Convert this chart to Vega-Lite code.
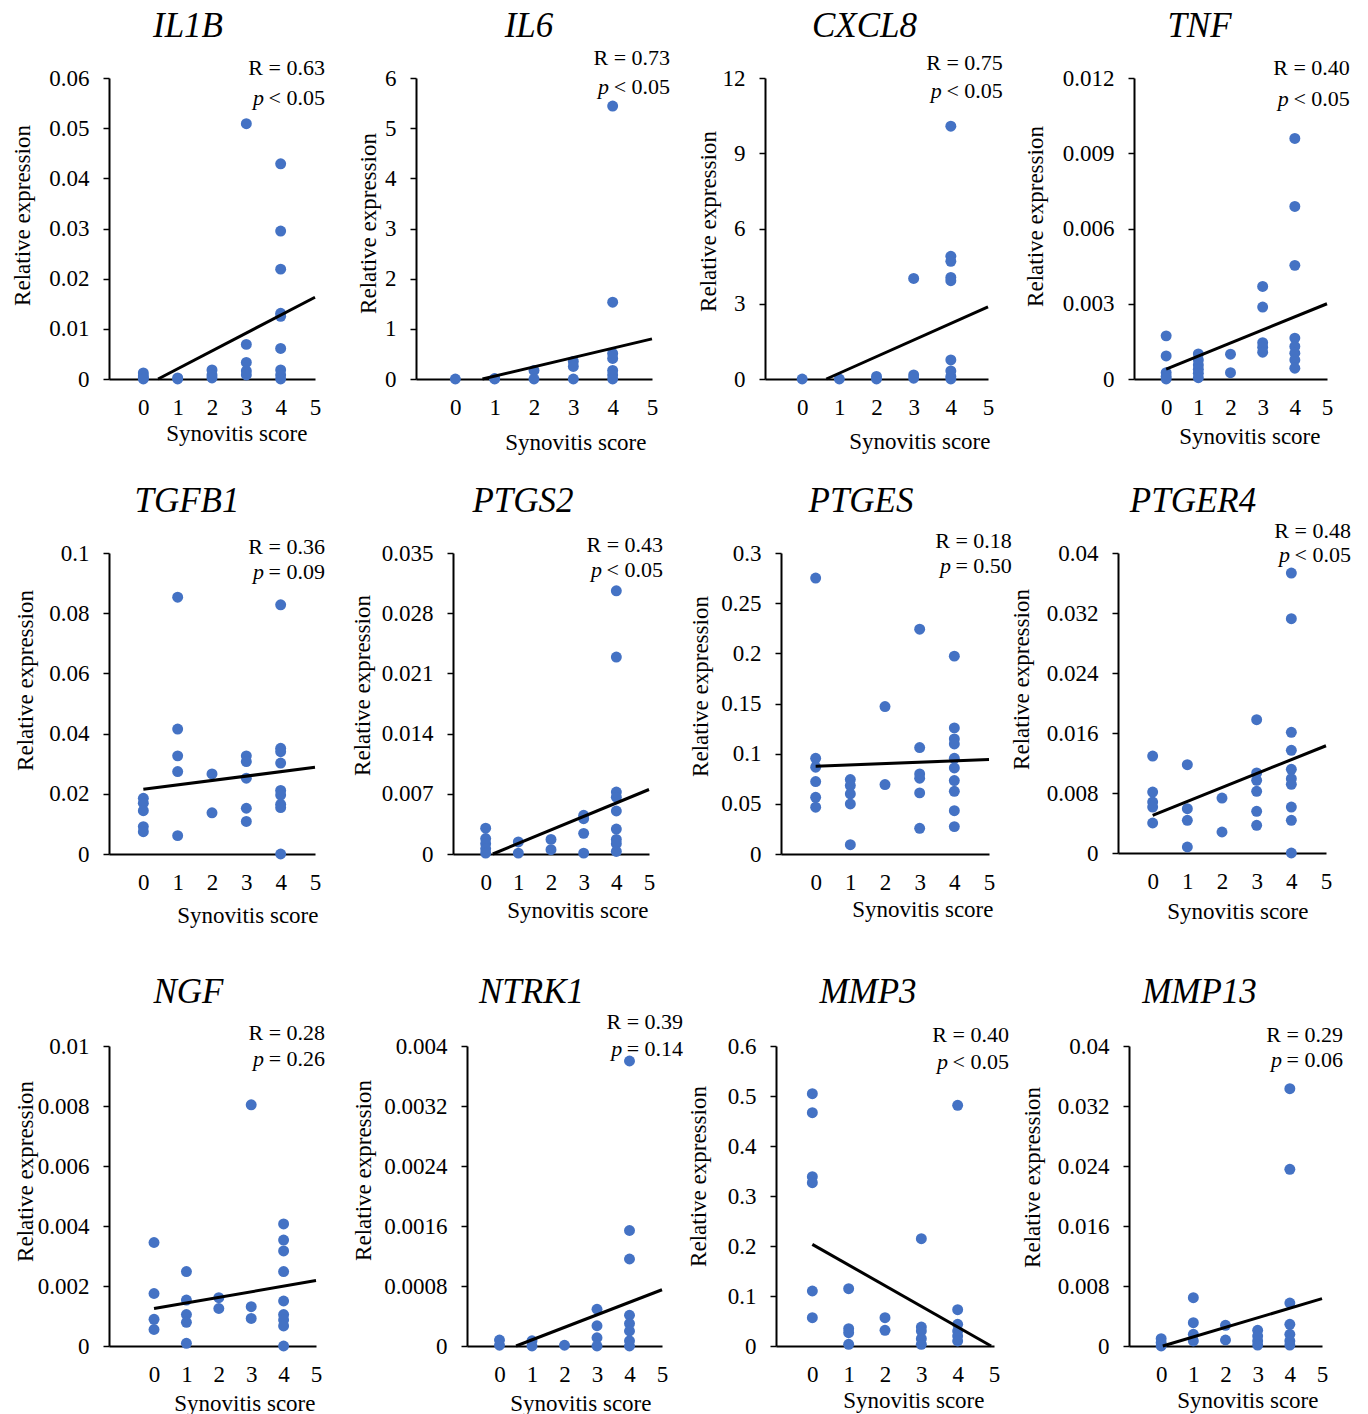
{
"$schema": "https://vega.github.io/schema/vega-lite/v6.json",
"background": "white",
"padding": {"left": 10, "top": 8, "right": 0, "bottom": 0},
"config": {
 "font": "Liberation Serif",
 "view": {"stroke": null},
 "axis": {"domainColor": "black", "domainWidth": 2, "labelColor": "black", "titleColor": "black", "labelFont": "Liberation Serif", "titleFont": "Liberation Serif", "labelFontSize": 23, "titleFontSize": 23, "titleFontWeight": "normal", "grid": false, "labelOverlap": false},
 "axisX": {"tickSize": 0, "ticks": false, "labelPadding": 17, "labelFlush": false, "labelOverlap": false, "labelBound": false, "titleAnchor": "end", "titleAlign": "right", "titleBaseline": "top"},
 "axisY": {"tickSize": 6, "tickWidth": 1.5, "tickColor": "black", "labelPadding": 14, "labelOverlap": false},
 "title": {"font": "Liberation Serif", "fontSize": 35, "fontStyle": "italic", "fontWeight": "normal", "color": "black", "anchor": "middle", "frame": "group", "baseline": "bottom"},
 "text": {"font": "Liberation Serif", "fontSize": 22, "color": "black"}
},
"datasets": {
 "points": [
  {"gene":"IL1B","score":0,"expr":0.0012},{"gene":"IL1B","score":0,"expr":0.0006},{"gene":"IL1B","score":0,"expr":0.0002},{"gene":"IL1B","score":0,"expr":0},
  {"gene":"IL1B","score":1,"expr":0.0002},{"gene":"IL1B","score":1,"expr":0},
  {"gene":"IL1B","score":2,"expr":0.0018},{"gene":"IL1B","score":2,"expr":0.0008},{"gene":"IL1B","score":2,"expr":0.0002},
  {"gene":"IL1B","score":3,"expr":0.0509},{"gene":"IL1B","score":3,"expr":0.0069},{"gene":"IL1B","score":3,"expr":0.0033},{"gene":"IL1B","score":3,"expr":0.0016},{"gene":"IL1B","score":3,"expr":0.0008},
  {"gene":"IL1B","score":4,"expr":0.0429},{"gene":"IL1B","score":4,"expr":0.0295},{"gene":"IL1B","score":4,"expr":0.0219},{"gene":"IL1B","score":4,"expr":0.0131},{"gene":"IL1B","score":4,"expr":0.0125},{"gene":"IL1B","score":4,"expr":0.0061},{"gene":"IL1B","score":4,"expr":0.0018},{"gene":"IL1B","score":4,"expr":0.0008},{"gene":"IL1B","score":4,"expr":0},

  {"gene":"IL6","score":0,"expr":0},
  {"gene":"IL6","score":1,"expr":0.01},{"gene":"IL6","score":1,"expr":0},
  {"gene":"IL6","score":2,"expr":0.17},{"gene":"IL6","score":2,"expr":0},
  {"gene":"IL6","score":3,"expr":0.35},{"gene":"IL6","score":3,"expr":0.25},{"gene":"IL6","score":3,"expr":0},
  {"gene":"IL6","score":4,"expr":5.44},{"gene":"IL6","score":4,"expr":1.53},{"gene":"IL6","score":4,"expr":0.51},{"gene":"IL6","score":4,"expr":0.41},{"gene":"IL6","score":4,"expr":0.17},{"gene":"IL6","score":4,"expr":0.08},{"gene":"IL6","score":4,"expr":0},

  {"gene":"CXCL8","score":0,"expr":0},
  {"gene":"CXCL8","score":1,"expr":0},
  {"gene":"CXCL8","score":2,"expr":0.1},{"gene":"CXCL8","score":2,"expr":0},
  {"gene":"CXCL8","score":3,"expr":4.01},{"gene":"CXCL8","score":3,"expr":0.16},{"gene":"CXCL8","score":3,"expr":0.03},
  {"gene":"CXCL8","score":4,"expr":10.08},{"gene":"CXCL8","score":4,"expr":4.89},{"gene":"CXCL8","score":4,"expr":4.69},{"gene":"CXCL8","score":4,"expr":4.05},{"gene":"CXCL8","score":4,"expr":3.92},{"gene":"CXCL8","score":4,"expr":0.76},{"gene":"CXCL8","score":4,"expr":0.32},{"gene":"CXCL8","score":4,"expr":0.1},{"gene":"CXCL8","score":4,"expr":0},

  {"gene":"TNF","score":0,"expr":0.00172},{"gene":"TNF","score":0,"expr":0.00092},{"gene":"TNF","score":0,"expr":0.00025},{"gene":"TNF","score":0,"expr":0.0001},{"gene":"TNF","score":0,"expr":0},
  {"gene":"TNF","score":1,"expr":0.001},{"gene":"TNF","score":1,"expr":0.00076},{"gene":"TNF","score":1,"expr":0.00056},{"gene":"TNF","score":1,"expr":0.00039},{"gene":"TNF","score":1,"expr":0.00023},{"gene":"TNF","score":1,"expr":0.00005},
  {"gene":"TNF","score":2,"expr":0.00099},{"gene":"TNF","score":2,"expr":0.00025},
  {"gene":"TNF","score":3,"expr":0.00369},{"gene":"TNF","score":3,"expr":0.00287},{"gene":"TNF","score":3,"expr":0.00145},{"gene":"TNF","score":3,"expr":0.00127},{"gene":"TNF","score":3,"expr":0.00107},
  {"gene":"TNF","score":4,"expr":0.00959},{"gene":"TNF","score":4,"expr":0.00688},{"gene":"TNF","score":4,"expr":0.00453},{"gene":"TNF","score":4,"expr":0.00163},{"gene":"TNF","score":4,"expr":0.0013},{"gene":"TNF","score":4,"expr":0.00103},{"gene":"TNF","score":4,"expr":0.00076},{"gene":"TNF","score":4,"expr":0.00043},

  {"gene":"TGFB1","score":0,"expr":0.0185},{"gene":"TGFB1","score":0,"expr":0.0169},{"gene":"TGFB1","score":0,"expr":0.0144},{"gene":"TGFB1","score":0,"expr":0.0091},{"gene":"TGFB1","score":0,"expr":0.0074},
  {"gene":"TGFB1","score":1,"expr":0.0853},{"gene":"TGFB1","score":1,"expr":0.0415},{"gene":"TGFB1","score":1,"expr":0.0326},{"gene":"TGFB1","score":1,"expr":0.0274},{"gene":"TGFB1","score":1,"expr":0.0061},
  {"gene":"TGFB1","score":2,"expr":0.0266},{"gene":"TGFB1","score":2,"expr":0.0137},
  {"gene":"TGFB1","score":3,"expr":0.0326},{"gene":"TGFB1","score":3,"expr":0.0307},{"gene":"TGFB1","score":3,"expr":0.0252},{"gene":"TGFB1","score":3,"expr":0.0152},{"gene":"TGFB1","score":3,"expr":0.0108},
  {"gene":"TGFB1","score":4,"expr":0.0828},{"gene":"TGFB1","score":4,"expr":0.0351},{"gene":"TGFB1","score":4,"expr":0.034},{"gene":"TGFB1","score":4,"expr":0.0302},{"gene":"TGFB1","score":4,"expr":0.0211},{"gene":"TGFB1","score":4,"expr":0.0196},{"gene":"TGFB1","score":4,"expr":0.0165},{"gene":"TGFB1","score":4,"expr":0.0154},{"gene":"TGFB1","score":4,"expr":0},

  {"gene":"PTGS2","score":0,"expr":0.003},{"gene":"PTGS2","score":0,"expr":0.0018},{"gene":"PTGS2","score":0,"expr":0.0012},{"gene":"PTGS2","score":0,"expr":0.0006},{"gene":"PTGS2","score":0,"expr":0.0001},
  {"gene":"PTGS2","score":1,"expr":0.0014},{"gene":"PTGS2","score":1,"expr":0.0001},
  {"gene":"PTGS2","score":2,"expr":0.0017},{"gene":"PTGS2","score":2,"expr":0.0005},
  {"gene":"PTGS2","score":3,"expr":0.0045},{"gene":"PTGS2","score":3,"expr":0.0041},{"gene":"PTGS2","score":3,"expr":0.0024},{"gene":"PTGS2","score":3,"expr":0.0001},
  {"gene":"PTGS2","score":4,"expr":0.0306},{"gene":"PTGS2","score":4,"expr":0.0229},{"gene":"PTGS2","score":4,"expr":0.0072},{"gene":"PTGS2","score":4,"expr":0.0066},{"gene":"PTGS2","score":4,"expr":0.005},{"gene":"PTGS2","score":4,"expr":0.0029},{"gene":"PTGS2","score":4,"expr":0.0017},{"gene":"PTGS2","score":4,"expr":0.0012},{"gene":"PTGS2","score":4,"expr":0.0003},

  {"gene":"PTGES","score":0,"expr":0.275},{"gene":"PTGES","score":0,"expr":0.0954},{"gene":"PTGES","score":0,"expr":0.0865},{"gene":"PTGES","score":0,"expr":0.0722},{"gene":"PTGES","score":0,"expr":0.0565},{"gene":"PTGES","score":0,"expr":0.0466},
  {"gene":"PTGES","score":1,"expr":0.0742},{"gene":"PTGES","score":1,"expr":0.0682},{"gene":"PTGES","score":1,"expr":0.0599},{"gene":"PTGES","score":1,"expr":0.0499},{"gene":"PTGES","score":1,"expr":0.0093},
  {"gene":"PTGES","score":2,"expr":0.147},{"gene":"PTGES","score":2,"expr":0.0692},
  {"gene":"PTGES","score":3,"expr":0.2241},{"gene":"PTGES","score":3,"expr":0.1061},{"gene":"PTGES","score":3,"expr":0.0798},{"gene":"PTGES","score":3,"expr":0.0755},{"gene":"PTGES","score":3,"expr":0.0609},{"gene":"PTGES","score":3,"expr":0.0256},
  {"gene":"PTGES","score":4,"expr":0.1972},{"gene":"PTGES","score":4,"expr":0.1257},{"gene":"PTGES","score":4,"expr":0.1147},{"gene":"PTGES","score":4,"expr":0.1097},{"gene":"PTGES","score":4,"expr":0.0954},{"gene":"PTGES","score":4,"expr":0.0858},{"gene":"PTGES","score":4,"expr":0.0732},{"gene":"PTGES","score":4,"expr":0.0625},{"gene":"PTGES","score":4,"expr":0.0432},{"gene":"PTGES","score":4,"expr":0.0273},

  {"gene":"PTGER4","score":0,"expr":0.01293},{"gene":"PTGER4","score":0,"expr":0.00813},{"gene":"PTGER4","score":0,"expr":0.0068},{"gene":"PTGER4","score":0,"expr":0.00613},{"gene":"PTGER4","score":0,"expr":0.004},
  {"gene":"PTGER4","score":1,"expr":0.01178},{"gene":"PTGER4","score":1,"expr":0.00591},{"gene":"PTGER4","score":1,"expr":0.00436},{"gene":"PTGER4","score":1,"expr":0.0008},
  {"gene":"PTGER4","score":2,"expr":0.00733},{"gene":"PTGER4","score":2,"expr":0.0028},
  {"gene":"PTGER4","score":3,"expr":0.01778},{"gene":"PTGER4","score":3,"expr":0.01067},{"gene":"PTGER4","score":3,"expr":0.00969},{"gene":"PTGER4","score":3,"expr":0.00822},{"gene":"PTGER4","score":3,"expr":0.00556},{"gene":"PTGER4","score":3,"expr":0.00369},
  {"gene":"PTGER4","score":4,"expr":0.03733},{"gene":"PTGER4","score":4,"expr":0.03124},{"gene":"PTGER4","score":4,"expr":0.01609},{"gene":"PTGER4","score":4,"expr":0.01369},{"gene":"PTGER4","score":4,"expr":0.01116},{"gene":"PTGER4","score":4,"expr":0.00991},{"gene":"PTGER4","score":4,"expr":0.00916},{"gene":"PTGER4","score":4,"expr":0.00613},{"gene":"PTGER4","score":4,"expr":0.00436},{"gene":"PTGER4","score":4,"expr":0},

  {"gene":"NGF","score":0,"expr":0.00345},{"gene":"NGF","score":0,"expr":0.00175},{"gene":"NGF","score":0,"expr":0.00089},{"gene":"NGF","score":0,"expr":0.00055},
  {"gene":"NGF","score":1,"expr":0.00248},{"gene":"NGF","score":1,"expr":0.00153},{"gene":"NGF","score":1,"expr":0.00105},{"gene":"NGF","score":1,"expr":0.00079},{"gene":"NGF","score":1,"expr":0.00009},
  {"gene":"NGF","score":2,"expr":0.00161},{"gene":"NGF","score":2,"expr":0.00125},
  {"gene":"NGF","score":3,"expr":0.00804},{"gene":"NGF","score":3,"expr":0.00131},{"gene":"NGF","score":3,"expr":0.00092},
  {"gene":"NGF","score":4,"expr":0.00407},{"gene":"NGF","score":4,"expr":0.00353},{"gene":"NGF","score":4,"expr":0.00317},{"gene":"NGF","score":4,"expr":0.00248},{"gene":"NGF","score":4,"expr":0.0015},{"gene":"NGF","score":4,"expr":0.00105},{"gene":"NGF","score":4,"expr":0.00087},{"gene":"NGF","score":4,"expr":0.00067},{"gene":"NGF","score":4,"expr":0},

  {"gene":"NTRK1","score":0,"expr":0.00008},{"gene":"NTRK1","score":0,"expr":0.00001},
  {"gene":"NTRK1","score":1,"expr":0.00007},{"gene":"NTRK1","score":1,"expr":0},
  {"gene":"NTRK1","score":2,"expr":0.00001},
  {"gene":"NTRK1","score":3,"expr":0.00049},{"gene":"NTRK1","score":3,"expr":0.00027},{"gene":"NTRK1","score":3,"expr":0.00011},{"gene":"NTRK1","score":3,"expr":0},
  {"gene":"NTRK1","score":4,"expr":0.0038},{"gene":"NTRK1","score":4,"expr":0.00154},{"gene":"NTRK1","score":4,"expr":0.00116},{"gene":"NTRK1","score":4,"expr":0.00041},{"gene":"NTRK1","score":4,"expr":0.0003},{"gene":"NTRK1","score":4,"expr":0.0002},{"gene":"NTRK1","score":4,"expr":0.00007},{"gene":"NTRK1","score":4,"expr":0},

  {"gene":"MMP3","score":0,"expr":0.5047},{"gene":"MMP3","score":0,"expr":0.4667},{"gene":"MMP3","score":0,"expr":0.3387},{"gene":"MMP3","score":0,"expr":0.3267},{"gene":"MMP3","score":0,"expr":0.11},{"gene":"MMP3","score":0,"expr":0.0567},
  {"gene":"MMP3","score":1,"expr":0.1147},{"gene":"MMP3","score":1,"expr":0.0347},{"gene":"MMP3","score":1,"expr":0.0267},{"gene":"MMP3","score":1,"expr":0.0033},
  {"gene":"MMP3","score":2,"expr":0.0567},{"gene":"MMP3","score":2,"expr":0.0313},
  {"gene":"MMP3","score":3,"expr":0.2147},{"gene":"MMP3","score":3,"expr":0.038},{"gene":"MMP3","score":3,"expr":0.03},{"gene":"MMP3","score":3,"expr":0.0147},{"gene":"MMP3","score":3,"expr":0.0033},
  {"gene":"MMP3","score":4,"expr":0.4813},{"gene":"MMP3","score":4,"expr":0.0727},{"gene":"MMP3","score":4,"expr":0.0433},{"gene":"MMP3","score":4,"expr":0.03},{"gene":"MMP3","score":4,"expr":0.02},{"gene":"MMP3","score":4,"expr":0.01},

  {"gene":"MMP13","score":0,"expr":0.00098},{"gene":"MMP13","score":0,"expr":0.00044},{"gene":"MMP13","score":0,"expr":0},
  {"gene":"MMP13","score":1,"expr":0.00644},{"gene":"MMP13","score":1,"expr":0.00311},{"gene":"MMP13","score":1,"expr":0.00156},{"gene":"MMP13","score":1,"expr":0.00067},
  {"gene":"MMP13","score":2,"expr":0.00276},{"gene":"MMP13","score":2,"expr":0.0008},
  {"gene":"MMP13","score":3,"expr":0.00209},{"gene":"MMP13","score":3,"expr":0.00133},{"gene":"MMP13","score":3,"expr":0.00067},{"gene":"MMP13","score":3,"expr":0.00013},
  {"gene":"MMP13","score":4,"expr":0.03431},{"gene":"MMP13","score":4,"expr":0.02356},{"gene":"MMP13","score":4,"expr":0.00573},{"gene":"MMP13","score":4,"expr":0.00289},{"gene":"MMP13","score":4,"expr":0.00156},{"gene":"MMP13","score":4,"expr":0.00067},{"gene":"MMP13","score":4,"expr":0.00013}
 ],
 "fits": [
  {"gene":"IL1B","score":0.43,"expr":0},{"gene":"IL1B","score":5,"expr":0.0163},
  {"gene":"IL6","score":0.69,"expr":0},{"gene":"IL6","score":5,"expr":0.8},
  {"gene":"CXCL8","score":0.65,"expr":0},{"gene":"CXCL8","score":5,"expr":2.88},
  {"gene":"TNF","score":0,"expr":0.00039},{"gene":"TNF","score":5,"expr":0.003},
  {"gene":"TGFB1","score":0,"expr":0.0215},{"gene":"TGFB1","score":5,"expr":0.0288},
  {"gene":"PTGS2","score":0.22,"expr":0},{"gene":"PTGS2","score":5,"expr":0.0075},
  {"gene":"PTGES","score":0,"expr":0.0875},{"gene":"PTGES","score":5,"expr":0.0941},
  {"gene":"PTGER4","score":0,"expr":0.00502},{"gene":"PTGER4","score":5,"expr":0.0143},
  {"gene":"NGF","score":0,"expr":0.00125},{"gene":"NGF","score":5,"expr":0.00218},
  {"gene":"NTRK1","score":0.51,"expr":0},{"gene":"NTRK1","score":5,"expr":0.00075},
  {"gene":"MMP3","score":0,"expr":0.2033},{"gene":"MMP3","score":4.92,"expr":0},
  {"gene":"MMP13","score":0.05,"expr":0},{"gene":"MMP13","score":5,"expr":0.00631}
 ],
 "stats": [
  {"gene":"IL1B","r_text":"R = 0.63","p_text":"< 0.05"},
  {"gene":"IL6","r_text":"R = 0.73","p_text":"< 0.05"},
  {"gene":"CXCL8","r_text":"R = 0.75","p_text":"< 0.05"},
  {"gene":"TNF","r_text":"R = 0.40","p_text":"< 0.05"},
  {"gene":"TGFB1","r_text":"R = 0.36","p_text":"= 0.09"},
  {"gene":"PTGS2","r_text":"R = 0.43","p_text":"< 0.05"},
  {"gene":"PTGES","r_text":"R = 0.18","p_text":"= 0.50"},
  {"gene":"PTGER4","r_text":"R = 0.48","p_text":"< 0.05"},
  {"gene":"NGF","r_text":"R = 0.28","p_text":"= 0.26"},
  {"gene":"NTRK1","r_text":"R = 0.39","p_text":"= 0.14"},
  {"gene":"MMP3","r_text":"R = 0.40","p_text":"< 0.05"},
  {"gene":"MMP13","r_text":"R = 0.29","p_text":"= 0.06"}
 ]
},
"concat": [
 {"concat": [
  {"hconcat": [
   {"hconcat": [
    {"width": 206, "height": 301, "title": {"text": "IL1B", "dx": -24, "offset": 13},
     "layer": [
      {"data": {"name": "points"}, "transform": [{"filter": "datum.gene === 'IL1B'"}], "mark": {"type": "circle", "size": 120, "color": "#4472C4", "opacity": 1},
       "encoding": {"x": {"field": "score", "type": "quantitative", "scale": {"domain": [-1, 5], "nice": false, "zero": false}, "axis": {"title": "Synovitis score", "values": [0,1,2,3,4,5], "format": "~g", "tickCount": 12, "labelOverlap": false, "titleX": 198, "titleY": 43}},
                    "y": {"field": "expr", "type": "quantitative", "scale": {"domain": [0, 0.06], "nice": false}, "axis": {"title": "Relative expression", "values": [0,0.01,0.02,0.03,0.04,0.05,0.06], "tickCount": 12, "format": "~g", "titleX": -75, "titleY": 137}}}},
      {"data": {"name": "fits"}, "transform": [{"filter": "datum.gene === 'IL1B'"}], "mark": {"type": "line", "color": "black", "strokeWidth": 3}, "encoding": {"x": {"field": "score", "type": "quantitative"}, "y": {"field": "expr", "type": "quantitative"}}},
      {"data": {"name": "stats"}, "transform": [{"filter": "datum.gene === 'IL1B'"}], "mark": {"type": "text", "align": "right", "baseline": "middle"}, "encoding": {"x": {"datum": 5.29}, "y": {"datum": 0.062}, "text": {"field": "r_text"}}},
      {"data": {"name": "stats"}, "transform": [{"filter": "datum.gene === 'IL1B'"}], "mark": {"type": "text", "align": "right", "baseline": "middle"}, "encoding": {"x": {"datum": 5.29}, "y": {"datum": 0.056}, "text": {"field": "p_text"}}},
      {"data": {"name": "stats"}, "transform": [{"filter": "datum.gene === 'IL1B'"}], "mark": {"type": "text", "align": "right", "baseline": "middle", "fontStyle": "italic", "dx": -61}, "encoding": {"x": {"datum": 5.29}, "y": {"datum": 0.056}, "text": {"value": "p"}}}
     ]},
    {"width": 236, "height": 301, "title": {"text": "IL6", "dx": -5, "offset": 3},
     "layer": [
      {"data": {"name": "points"}, "transform": [{"filter": "datum.gene === 'IL6'"}], "mark": {"type": "circle", "size": 120, "color": "#4472C4", "opacity": 1},
       "encoding": {"x": {"field": "score", "type": "quantitative", "scale": {"domain": [-1, 5], "nice": false, "zero": false}, "axis": {"title": "Synovitis score", "values": [0,1,2,3,4,5], "format": "~g", "tickCount": 12, "labelOverlap": false, "titleX": 230, "titleY": 52}},
                    "y": {"field": "expr", "type": "quantitative", "scale": {"domain": [0, 6], "nice": false}, "axis": {"title": "Relative expression", "values": [0,1,2,3,4,5,6], "tickCount": 12, "format": "~g", "titleX": -36, "titleY": 145}}}},
      {"data": {"name": "fits"}, "transform": [{"filter": "datum.gene === 'IL6'"}], "mark": {"type": "line", "color": "black", "strokeWidth": 3}, "encoding": {"x": {"field": "score", "type": "quantitative"}, "y": {"field": "expr", "type": "quantitative"}}},
      {"data": {"name": "stats"}, "transform": [{"filter": "datum.gene === 'IL6'"}], "mark": {"type": "text", "align": "right", "baseline": "middle"}, "encoding": {"x": {"datum": 5.46}, "y": {"datum": 6.4}, "text": {"field": "r_text"}}},
      {"data": {"name": "stats"}, "transform": [{"filter": "datum.gene === 'IL6'"}], "mark": {"type": "text", "align": "right", "baseline": "middle"}, "encoding": {"x": {"datum": 5.46}, "y": {"datum": 5.82}, "text": {"field": "p_text"}}},
      {"data": {"name": "stats"}, "transform": [{"filter": "datum.gene === 'IL6'"}], "mark": {"type": "text", "align": "right", "baseline": "middle", "fontStyle": "italic", "dx": -61}, "encoding": {"x": {"datum": 5.46}, "y": {"datum": 5.82}, "text": {"value": "p"}}}
     ]}
   ], "spacing": 31},
   {"hconcat": [
    {"width": 223, "height": 301, "title": {"text": "CXCL8", "dx": -12, "offset": 8},
     "layer": [
      {"data": {"name": "points"}, "transform": [{"filter": "datum.gene === 'CXCL8'"}], "mark": {"type": "circle", "size": 120, "color": "#4472C4", "opacity": 1},
       "encoding": {"x": {"field": "score", "type": "quantitative", "scale": {"domain": [-1, 5], "nice": false, "zero": false}, "axis": {"title": "Synovitis score", "values": [0,1,2,3,4,5], "format": "~g", "tickCount": 12, "labelOverlap": false, "titleX": 225, "titleY": 51}},
                    "y": {"field": "expr", "type": "quantitative", "scale": {"domain": [0, 12], "nice": false}, "axis": {"title": "Relative expression", "values": [0,3,6,9,12], "tickCount": 12, "format": "~g", "titleX": -45, "titleY": 143}}}},
      {"data": {"name": "fits"}, "transform": [{"filter": "datum.gene === 'CXCL8'"}], "mark": {"type": "line", "color": "black", "strokeWidth": 3}, "encoding": {"x": {"field": "score", "type": "quantitative"}, "y": {"field": "expr", "type": "quantitative"}}},
      {"data": {"name": "stats"}, "transform": [{"filter": "datum.gene === 'CXCL8'"}], "mark": {"type": "text", "align": "right", "baseline": "middle"}, "encoding": {"x": {"datum": 5.4}, "y": {"datum": 12.6}, "text": {"field": "r_text"}}},
      {"data": {"name": "stats"}, "transform": [{"filter": "datum.gene === 'CXCL8'"}], "mark": {"type": "text", "align": "right", "baseline": "middle"}, "encoding": {"x": {"datum": 5.4}, "y": {"datum": 11.48}, "text": {"field": "p_text"}}},
      {"data": {"name": "stats"}, "transform": [{"filter": "datum.gene === 'CXCL8'"}], "mark": {"type": "text", "align": "right", "baseline": "middle", "fontStyle": "italic", "dx": -61}, "encoding": {"x": {"datum": 5.4}, "y": {"datum": 11.48}, "text": {"value": "p"}}}
     ]},
    {"width": 193, "height": 301, "title": {"text": "TNF", "dx": -31, "offset": 13},
     "layer": [
      {"data": {"name": "points"}, "transform": [{"filter": "datum.gene === 'TNF'"}], "mark": {"type": "circle", "size": 120, "color": "#4472C4", "opacity": 1},
       "encoding": {"x": {"field": "score", "type": "quantitative", "scale": {"domain": [-1, 5], "nice": false, "zero": false}, "axis": {"title": "Synovitis score", "values": [0,1,2,3,4,5], "format": "~g", "tickCount": 12, "labelOverlap": false, "titleX": 186, "titleY": 46}},
                    "y": {"field": "expr", "type": "quantitative", "scale": {"domain": [0, 0.012], "nice": false}, "axis": {"title": "Relative expression", "values": [0,0.003,0.006,0.009,0.012], "tickCount": 12, "format": "~g", "titleX": -87, "titleY": 138}}}},
      {"data": {"name": "fits"}, "transform": [{"filter": "datum.gene === 'TNF'"}], "mark": {"type": "line", "color": "black", "strokeWidth": 3}, "encoding": {"x": {"field": "score", "type": "quantitative"}, "y": {"field": "expr", "type": "quantitative"}}},
      {"data": {"name": "stats"}, "transform": [{"filter": "datum.gene === 'TNF'"}], "mark": {"type": "text", "align": "right", "baseline": "middle"}, "encoding": {"x": {"datum": 5.71}, "y": {"datum": 0.012398}, "text": {"field": "r_text"}}},
      {"data": {"name": "stats"}, "transform": [{"filter": "datum.gene === 'TNF'"}], "mark": {"type": "text", "align": "right", "baseline": "middle"}, "encoding": {"x": {"datum": 5.71}, "y": {"datum": 0.011163}, "text": {"field": "p_text"}}},
      {"data": {"name": "stats"}, "transform": [{"filter": "datum.gene === 'TNF'"}], "mark": {"type": "text", "align": "right", "baseline": "middle", "fontStyle": "italic", "dx": -61}, "encoding": {"x": {"datum": 5.71}, "y": {"datum": 0.011163}, "text": {"value": "p"}}}
     ]}
   ], "spacing": 20}
  ], "spacing": 25},
  {"hconcat": [
   {"hconcat": [
    {"width": 206, "height": 301, "title": {"text": "TGFB1", "dx": -25, "offset": 17},
     "layer": [
      {"data": {"name": "points"}, "transform": [{"filter": "datum.gene === 'TGFB1'"}], "mark": {"type": "circle", "size": 120, "color": "#4472C4", "opacity": 1},
       "encoding": {"x": {"field": "score", "type": "quantitative", "scale": {"domain": [-1, 5], "nice": false, "zero": false}, "axis": {"title": "Synovitis score", "values": [0,1,2,3,4,5], "format": "~g", "tickCount": 12, "labelOverlap": false, "titleX": 209, "titleY": 50}},
                    "y": {"field": "expr", "type": "quantitative", "scale": {"domain": [0, 0.1], "nice": false}, "axis": {"title": "Relative expression", "values": [0,0.02,0.04,0.06,0.08,0.1], "tickCount": 12, "format": "~g", "titleX": -72, "titleY": 127}}}},
      {"data": {"name": "fits"}, "transform": [{"filter": "datum.gene === 'TGFB1'"}], "mark": {"type": "line", "color": "black", "strokeWidth": 3}, "encoding": {"x": {"field": "score", "type": "quantitative"}, "y": {"field": "expr", "type": "quantitative"}}},
      {"data": {"name": "stats"}, "transform": [{"filter": "datum.gene === 'TGFB1'"}], "mark": {"type": "text", "align": "right", "baseline": "middle"}, "encoding": {"x": {"datum": 5.29}, "y": {"datum": 0.102}, "text": {"field": "r_text"}}},
      {"data": {"name": "stats"}, "transform": [{"filter": "datum.gene === 'TGFB1'"}], "mark": {"type": "text", "align": "right", "baseline": "middle"}, "encoding": {"x": {"datum": 5.29}, "y": {"datum": 0.0937}, "text": {"field": "p_text"}}},
      {"data": {"name": "stats"}, "transform": [{"filter": "datum.gene === 'TGFB1'"}], "mark": {"type": "text", "align": "right", "baseline": "middle", "fontStyle": "italic", "dx": -61}, "encoding": {"x": {"datum": 5.29}, "y": {"datum": 0.0937}, "text": {"value": "p"}}}
     ]},
    {"width": 196, "height": 301, "title": {"text": "PTGS2", "dx": -28, "offset": 15},
     "layer": [
      {"data": {"name": "points"}, "transform": [{"filter": "datum.gene === 'PTGS2'"}], "mark": {"type": "circle", "size": 120, "color": "#4472C4", "opacity": 1},
       "encoding": {"x": {"field": "score", "type": "quantitative", "scale": {"domain": [-1, 5], "nice": false, "zero": false}, "axis": {"title": "Synovitis score", "values": [0,1,2,3,4,5], "format": "~g", "tickCount": 12, "labelOverlap": false, "titleX": 195, "titleY": 45}},
                    "y": {"field": "expr", "type": "quantitative", "scale": {"domain": [0, 0.035], "nice": false}, "axis": {"title": "Relative expression", "values": [0,0.007,0.014,0.021,0.028,0.035], "tickCount": 12, "format": "~g", "titleX": -79, "titleY": 132}}}},
      {"data": {"name": "fits"}, "transform": [{"filter": "datum.gene === 'PTGS2'"}], "mark": {"type": "line", "color": "black", "strokeWidth": 3}, "encoding": {"x": {"field": "score", "type": "quantitative"}, "y": {"field": "expr", "type": "quantitative"}}},
      {"data": {"name": "stats"}, "transform": [{"filter": "datum.gene === 'PTGS2'"}], "mark": {"type": "text", "align": "right", "baseline": "middle"}, "encoding": {"x": {"datum": 5.43}, "y": {"datum": 0.03593}, "text": {"field": "r_text"}}},
      {"data": {"name": "stats"}, "transform": [{"filter": "datum.gene === 'PTGS2'"}], "mark": {"type": "text", "align": "right", "baseline": "middle"}, "encoding": {"x": {"datum": 5.43}, "y": {"datum": 0.03302}, "text": {"field": "p_text"}}},
      {"data": {"name": "stats"}, "transform": [{"filter": "datum.gene === 'PTGS2'"}], "mark": {"type": "text", "align": "right", "baseline": "middle", "fontStyle": "italic", "dx": -61}, "encoding": {"x": {"datum": 5.43}, "y": {"datum": 0.03302}, "text": {"value": "p"}}}
     ]}
   ], "spacing": 25},
   {"hconcat": [
    {"width": 208, "height": 301, "title": {"text": "PTGES", "dx": -24, "offset": 11},
     "layer": [
      {"data": {"name": "points"}, "transform": [{"filter": "datum.gene === 'PTGES'"}], "mark": {"type": "circle", "size": 120, "color": "#4472C4", "opacity": 1},
       "encoding": {"x": {"field": "score", "type": "quantitative", "scale": {"domain": [-1, 5], "nice": false, "zero": false}, "axis": {"title": "Synovitis score", "values": [0,1,2,3,4,5], "format": "~g", "tickCount": 12, "labelOverlap": false, "titleX": 212, "titleY": 44}},
                    "y": {"field": "expr", "type": "quantitative", "scale": {"domain": [0, 0.3], "nice": false}, "axis": {"title": "Relative expression", "values": [0,0.05,0.1,0.15,0.2,0.25,0.3], "tickCount": 12, "format": "~g", "titleX": -69, "titleY": 133}}}},
      {"data": {"name": "fits"}, "transform": [{"filter": "datum.gene === 'PTGES'"}], "mark": {"type": "line", "color": "black", "strokeWidth": 3}, "encoding": {"x": {"field": "score", "type": "quantitative"}, "y": {"field": "expr", "type": "quantitative"}}},
      {"data": {"name": "stats"}, "transform": [{"filter": "datum.gene === 'PTGES'"}], "mark": {"type": "text", "align": "right", "baseline": "middle"}, "encoding": {"x": {"datum": 5.66}, "y": {"datum": 0.312}, "text": {"field": "r_text"}}},
      {"data": {"name": "stats"}, "transform": [{"filter": "datum.gene === 'PTGES'"}], "mark": {"type": "text", "align": "right", "baseline": "middle"}, "encoding": {"x": {"datum": 5.66}, "y": {"datum": 0.287}, "text": {"field": "p_text"}}},
      {"data": {"name": "stats"}, "transform": [{"filter": "datum.gene === 'PTGES'"}], "mark": {"type": "text", "align": "right", "baseline": "middle", "fontStyle": "italic", "dx": -61}, "encoding": {"x": {"datum": 5.66}, "y": {"datum": 0.287}, "text": {"value": "p"}}}
     ]},
    {"width": 208, "height": 300, "title": {"text": "PTGER4", "dx": -29, "offset": 1},
     "layer": [
      {"data": {"name": "points"}, "transform": [{"filter": "datum.gene === 'PTGER4'"}], "mark": {"type": "circle", "size": 120, "color": "#4472C4", "opacity": 1},
       "encoding": {"x": {"field": "score", "type": "quantitative", "scale": {"domain": [-1, 5], "nice": false, "zero": false}, "axis": {"title": "Synovitis score", "values": [0,1,2,3,4,5], "format": "~g", "tickCount": 12, "labelOverlap": false, "titleX": 190, "titleY": 47}},
                    "y": {"field": "expr", "type": "quantitative", "scale": {"domain": [0, 0.04], "nice": false}, "axis": {"title": "Relative expression", "values": [0,0.008,0.016,0.024,0.032,0.04], "tickCount": 12, "format": "~g", "titleX": -85, "titleY": 126}}}},
      {"data": {"name": "fits"}, "transform": [{"filter": "datum.gene === 'PTGER4'"}], "mark": {"type": "line", "color": "black", "strokeWidth": 3}, "encoding": {"x": {"field": "score", "type": "quantitative"}, "y": {"field": "expr", "type": "quantitative"}}},
      {"data": {"name": "stats"}, "transform": [{"filter": "datum.gene === 'PTGER4'"}], "mark": {"type": "text", "align": "right", "baseline": "middle"}, "encoding": {"x": {"datum": 5.72}, "y": {"datum": 0.04293}, "text": {"field": "r_text"}}},
      {"data": {"name": "stats"}, "transform": [{"filter": "datum.gene === 'PTGER4'"}], "mark": {"type": "text", "align": "right", "baseline": "middle"}, "encoding": {"x": {"datum": 5.72}, "y": {"datum": 0.03973}, "text": {"field": "p_text"}}},
      {"data": {"name": "stats"}, "transform": [{"filter": "datum.gene === 'PTGER4'"}], "mark": {"type": "text", "align": "right", "baseline": "middle", "fontStyle": "italic", "dx": -61}, "encoding": {"x": {"datum": 5.72}, "y": {"datum": 0.03973}, "text": {"value": "p"}}}
     ]}
   ], "spacing": -3}
  ], "spacing": 24}
 ], "columns": 1, "spacing": 29, "align": "none"},
 {"hconcat": [
  {"hconcat": [
   {"width": 207, "height": 300, "title": {"text": "NGF", "dx": -24, "offset": 12},
    "layer": [
     {"data": {"name": "points"}, "transform": [{"filter": "datum.gene === 'NGF'"}], "mark": {"type": "circle", "size": 120, "color": "#4472C4", "opacity": 1},
      "encoding": {"x": {"field": "score", "type": "quantitative", "scale": {"domain": [-1.39, 5], "nice": false, "zero": false}, "axis": {"title": "Synovitis score", "values": [0,1,2,3,4,5], "format": "~g", "tickCount": 12, "labelOverlap": false, "titleX": 206, "titleY": 46}},
                   "y": {"field": "expr", "type": "quantitative", "scale": {"domain": [0, 0.01], "nice": false}, "axis": {"title": "Relative expression", "values": [0,0.002,0.004,0.006,0.008,0.01], "tickCount": 12, "format": "~g", "titleX": -72, "titleY": 125}}}},
     {"data": {"name": "fits"}, "transform": [{"filter": "datum.gene === 'NGF'"}], "mark": {"type": "line", "color": "black", "strokeWidth": 3}, "encoding": {"x": {"field": "score", "type": "quantitative"}, "y": {"field": "expr", "type": "quantitative"}}},
     {"data": {"name": "stats"}, "transform": [{"filter": "datum.gene === 'NGF'"}], "mark": {"type": "text", "align": "right", "baseline": "middle"}, "encoding": {"x": {"datum": 5.28}, "y": {"datum": 0.010433}, "text": {"field": "r_text"}}},
     {"data": {"name": "stats"}, "transform": [{"filter": "datum.gene === 'NGF'"}], "mark": {"type": "text", "align": "right", "baseline": "middle"}, "encoding": {"x": {"datum": 5.28}, "y": {"datum": 0.009567}, "text": {"field": "p_text"}}},
     {"data": {"name": "stats"}, "transform": [{"filter": "datum.gene === 'NGF'"}], "mark": {"type": "text", "align": "right", "baseline": "middle", "fontStyle": "italic", "dx": -61}, "encoding": {"x": {"datum": 5.28}, "y": {"datum": 0.009567}, "text": {"value": "p"}}}
    ]},
   {"width": 195, "height": 300, "title": {"text": "NTRK1", "dx": -33, "offset": 1},
    "layer": [
     {"data": {"name": "points"}, "transform": [{"filter": "datum.gene === 'NTRK1'"}], "mark": {"type": "circle", "size": 120, "color": "#4472C4", "opacity": 1},
      "encoding": {"x": {"field": "score", "type": "quantitative", "scale": {"domain": [-1, 5], "nice": false, "zero": false}, "axis": {"title": "Synovitis score", "values": [0,1,2,3,4,5], "format": "~g", "tickCount": 12, "labelOverlap": false, "titleX": 184, "titleY": 46}},
                   "y": {"field": "expr", "type": "quantitative", "scale": {"domain": [0, 0.004], "nice": false}, "axis": {"title": "Relative expression", "values": [0,0.0008,0.0016,0.0024,0.0032,0.004], "tickCount": 12, "format": "~g", "titleX": -92, "titleY": 124}}}},
     {"data": {"name": "fits"}, "transform": [{"filter": "datum.gene === 'NTRK1'"}], "mark": {"type": "line", "color": "black", "strokeWidth": 3}, "encoding": {"x": {"field": "score", "type": "quantitative"}, "y": {"field": "expr", "type": "quantitative"}}},
     {"data": {"name": "stats"}, "transform": [{"filter": "datum.gene === 'NTRK1'"}], "mark": {"type": "text", "align": "right", "baseline": "middle"}, "encoding": {"x": {"datum": 5.65}, "y": {"datum": 0.00432}, "text": {"field": "r_text"}}},
     {"data": {"name": "stats"}, "transform": [{"filter": "datum.gene === 'NTRK1'"}], "mark": {"type": "text", "align": "right", "baseline": "middle"}, "encoding": {"x": {"datum": 5.65}, "y": {"datum": 0.00396}, "text": {"field": "p_text"}}},
     {"data": {"name": "stats"}, "transform": [{"filter": "datum.gene === 'NTRK1'"}], "mark": {"type": "text", "align": "right", "baseline": "middle", "fontStyle": "italic", "dx": -61}, "encoding": {"x": {"datum": 5.65}, "y": {"datum": 0.00396}, "text": {"value": "p"}}}
    ]}
  ], "spacing": 25},
  {"hconcat": [
   {"width": 218, "height": 300, "title": {"text": "MMP3", "dx": -17, "offset": 14},
    "layer": [
     {"data": {"name": "points"}, "transform": [{"filter": "datum.gene === 'MMP3'"}], "mark": {"type": "circle", "size": 120, "color": "#4472C4", "opacity": 1},
      "encoding": {"x": {"field": "score", "type": "quantitative", "scale": {"domain": [-1, 5], "nice": false, "zero": false}, "axis": {"title": "Synovitis score", "values": [0,1,2,3,4,5], "format": "~g", "tickCount": 12, "labelOverlap": false, "titleX": 208, "titleY": 43}},
                   "y": {"field": "expr", "type": "quantitative", "scale": {"domain": [0, 0.6], "nice": false}, "axis": {"title": "Relative expression", "values": [0,0.1,0.2,0.3,0.4,0.5,0.6], "tickCount": 12, "format": "~g", "titleX": -66, "titleY": 130}}}},
     {"data": {"name": "fits"}, "transform": [{"filter": "datum.gene === 'MMP3'"}], "mark": {"type": "line", "color": "black", "strokeWidth": 3}, "encoding": {"x": {"field": "score", "type": "quantitative"}, "y": {"field": "expr", "type": "quantitative"}}},
     {"data": {"name": "stats"}, "transform": [{"filter": "datum.gene === 'MMP3'"}], "mark": {"type": "text", "align": "right", "baseline": "middle"}, "encoding": {"x": {"datum": 5.41}, "y": {"datum": 0.622}, "text": {"field": "r_text"}}},
     {"data": {"name": "stats"}, "transform": [{"filter": "datum.gene === 'MMP3'"}], "mark": {"type": "text", "align": "right", "baseline": "middle"}, "encoding": {"x": {"datum": 5.41}, "y": {"datum": 0.568}, "text": {"field": "p_text"}}},
     {"data": {"name": "stats"}, "transform": [{"filter": "datum.gene === 'MMP3'"}], "mark": {"type": "text", "align": "right", "baseline": "middle", "fontStyle": "italic", "dx": -61}, "encoding": {"x": {"datum": 5.41}, "y": {"datum": 0.568}, "text": {"value": "p"}}}
    ]},
   {"width": 193, "height": 300, "title": {"text": "MMP13", "dx": -26, "offset": 14},
    "layer": [
     {"data": {"name": "points"}, "transform": [{"filter": "datum.gene === 'MMP13'"}], "mark": {"type": "circle", "size": 120, "color": "#4472C4", "opacity": 1},
      "encoding": {"x": {"field": "score", "type": "quantitative", "scale": {"domain": [-1, 5], "nice": false, "zero": false}, "axis": {"title": "Synovitis score", "values": [0,1,2,3,4,5], "format": "~g", "tickCount": 12, "labelOverlap": false, "titleX": 189, "titleY": 43}},
                   "y": {"field": "expr", "type": "quantitative", "scale": {"domain": [0, 0.04], "nice": false}, "axis": {"title": "Relative expression", "values": [0,0.008,0.016,0.024,0.032,0.04], "tickCount": 12, "format": "~g", "titleX": -85, "titleY": 131}}}},
     {"data": {"name": "fits"}, "transform": [{"filter": "datum.gene === 'MMP13'"}], "mark": {"type": "line", "color": "black", "strokeWidth": 3}, "encoding": {"x": {"field": "score", "type": "quantitative"}, "y": {"field": "expr", "type": "quantitative"}}},
     {"data": {"name": "stats"}, "transform": [{"filter": "datum.gene === 'MMP13'"}], "mark": {"type": "text", "align": "right", "baseline": "middle"}, "encoding": {"x": {"datum": 5.65}, "y": {"datum": 0.04147}, "text": {"field": "r_text"}}},
     {"data": {"name": "stats"}, "transform": [{"filter": "datum.gene === 'MMP13'"}], "mark": {"type": "text", "align": "right", "baseline": "middle"}, "encoding": {"x": {"datum": 5.65}, "y": {"datum": 0.03813}, "text": {"field": "p_text"}}},
     {"data": {"name": "stats"}, "transform": [{"filter": "datum.gene === 'MMP13'"}], "mark": {"type": "text", "align": "right", "baseline": "middle", "fontStyle": "italic", "dx": -61}, "encoding": {"x": {"datum": 5.65}, "y": {"datum": 0.03813}, "text": {"value": "p"}}}
    ]}
  ], "spacing": 11}
 ], "spacing": 2}
], "columns": 1, "spacing": 47, "align": "none"}
